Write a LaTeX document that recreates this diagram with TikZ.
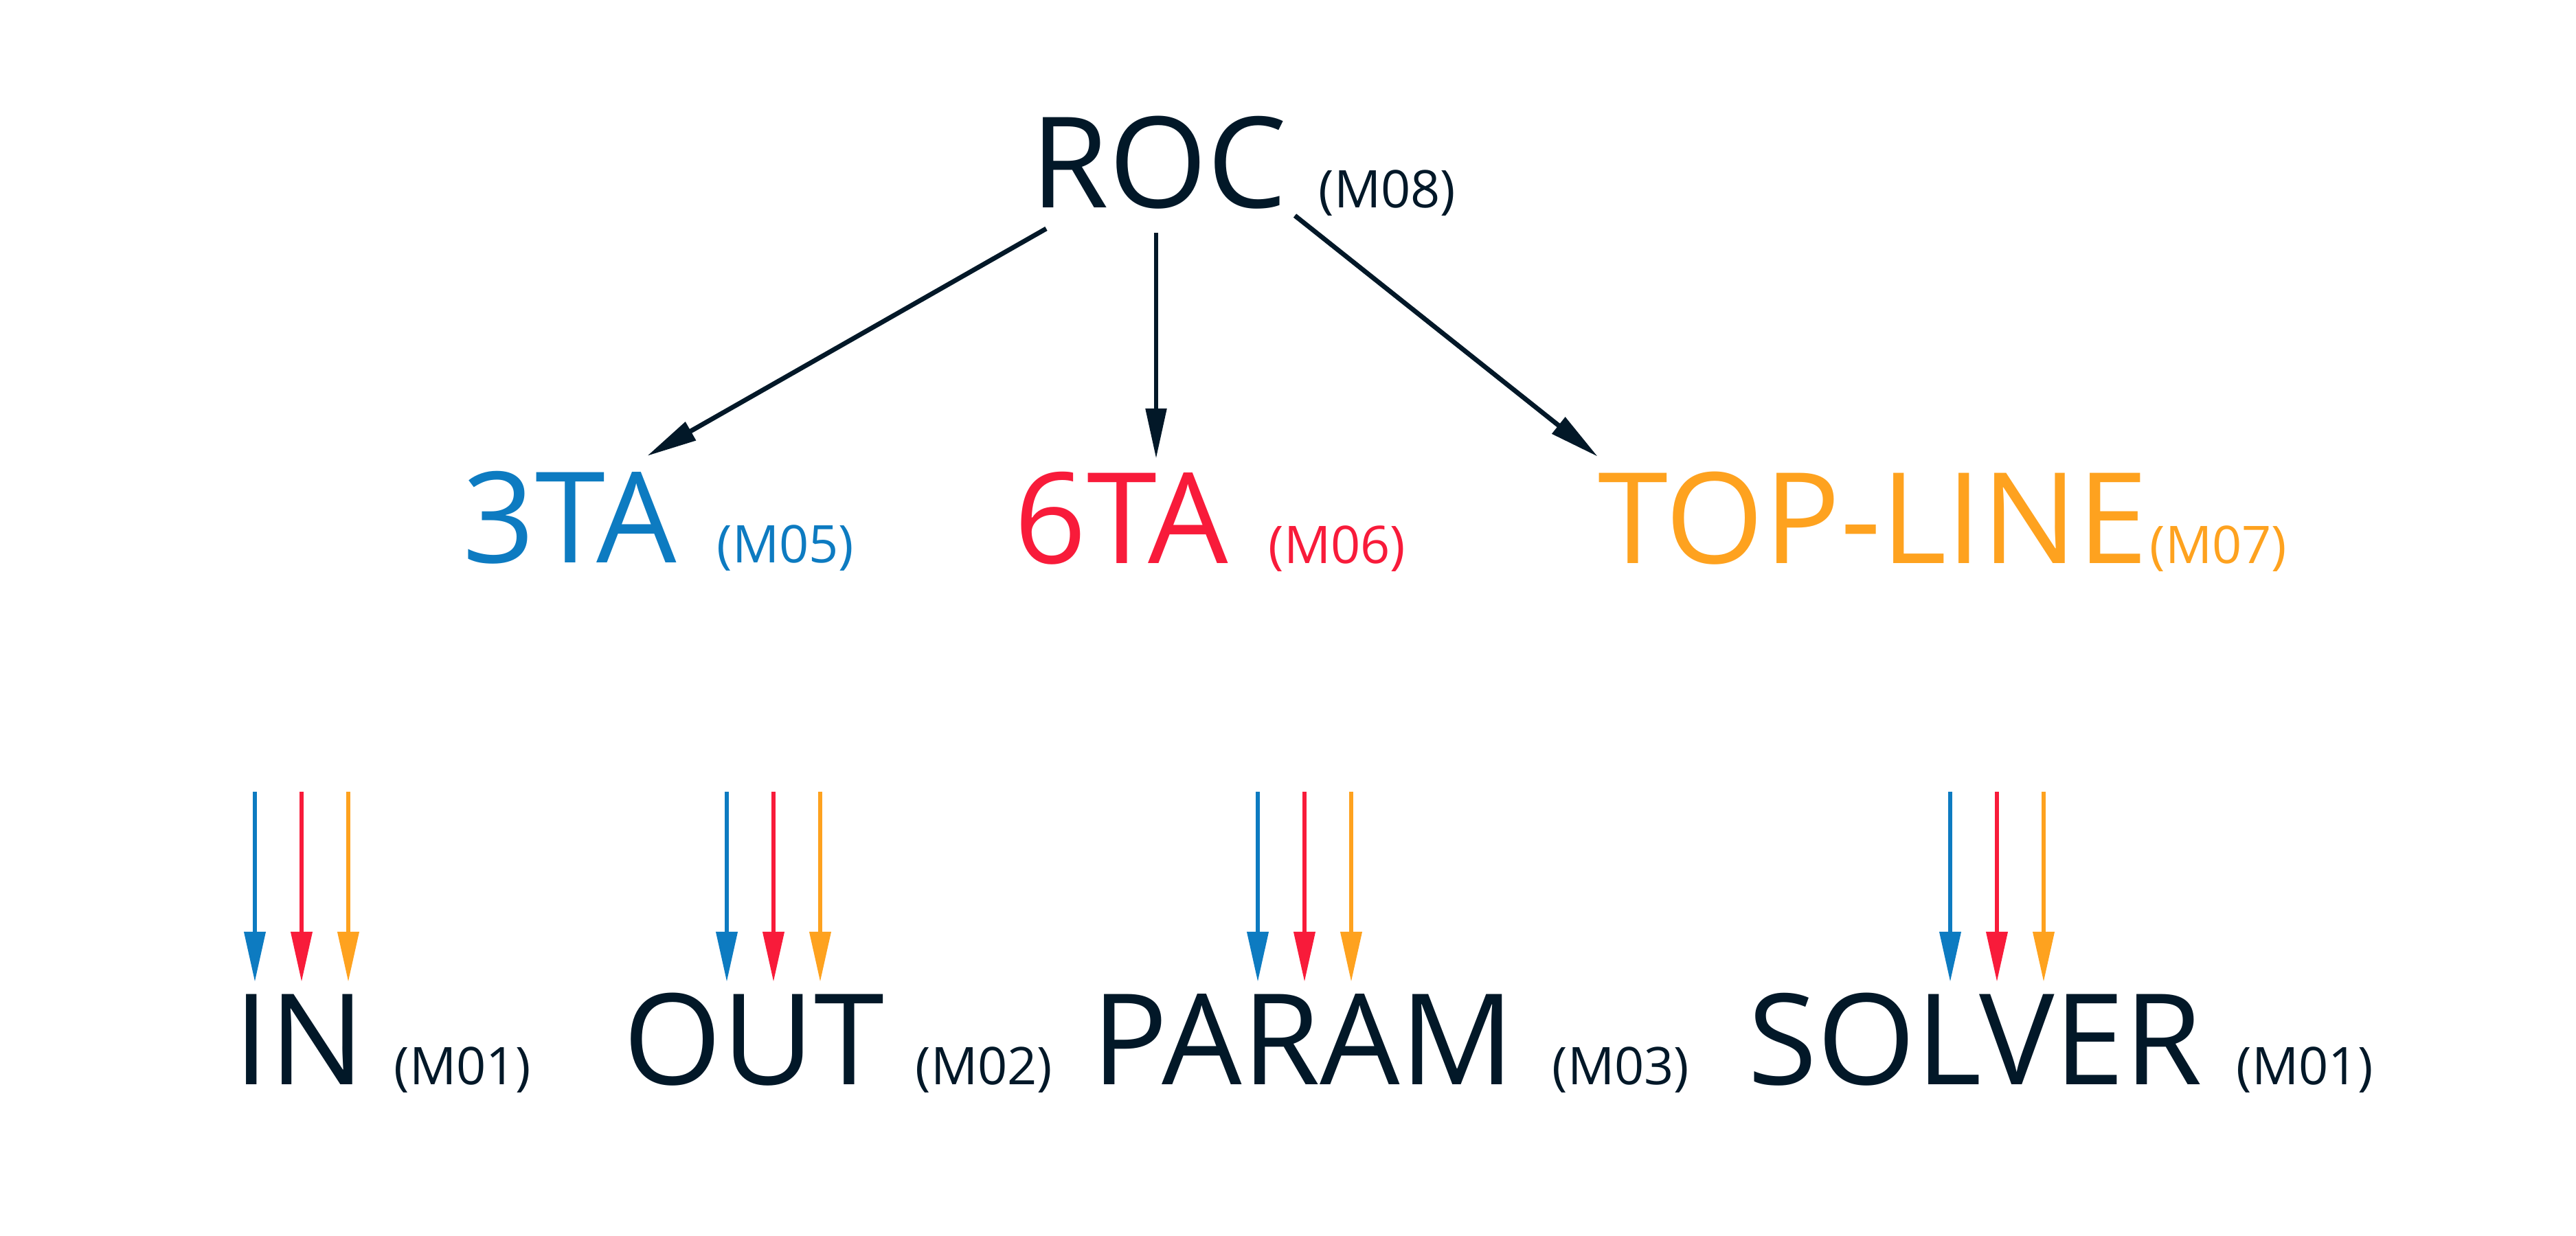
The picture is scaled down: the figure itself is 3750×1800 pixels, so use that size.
\documentclass[tikz,border=0pt]{standalone}
\usepackage{fontspec}
\setmainfont{Open Sans}
\usetikzlibrary{arrows.meta}
\definecolor{ink}{HTML}{021828}
\definecolor{cblue}{HTML}{0D7BC1}
\definecolor{cred}{HTML}{F81B3A}
\definecolor{corange}{HTML}{FEA21F}
\tikzset{
  big/.style={inner sep=0pt, anchor=base west, font=\fontsize{52.35pt}{60pt}\selectfont},
  small/.style={inner sep=0pt, anchor=base west, font=\fontsize{21.5pt}{26pt}\selectfont},
  toparrow/.style={draw=ink, line width=1.95pt, -{Triangle[length=20.8pt,width=8.4pt]}},
  botarrow/.style={line width=1.8pt, -{Triangle[length=20.8pt,width=8.6pt]}},
}
\begin{document}
\begin{tikzpicture}[x=0.01cm,y=-0.01cm]
\useasboundingbox (0,0) rectangle (3750,1800);
% top level
\node[big, text=ink] (roc) at (1500,303) {ROC};
\node[small, text=ink] (rocl) at (1919,303) {(M08)};
% middle level
\node[big, text=cblue] (tta) at (673,819) {3TA};
\node[small, text=cblue] (ttal) at (1043,819) {(M05)};
\node[big, text=cred] (sta) at (1476,820) {6TA};
\node[small, text=cred] (stal) at (1846,820) {(M06)};
\node[big, text=corange] (top) at (2326,820) {TOP-LINE};
\node[small, text=corange] (topl) at (3129,820) {(M07)};
% bottom level
\node[big, text=ink] (in) at (340,1579) {IN};
\node[small, text=ink] (inl) at (573,1579) {(M01)};
\node[big, text=ink] (out) at (907,1579) {OUT};
\node[small, text=ink] (outl) at (1332,1579) {(M02)};
\node[big, text=ink] (param) at (1589,1579) {PARAM};
\node[small, text=ink] (paraml) at (2259,1579) {(M03)};
\node[big, text=ink] (solver) at (2544,1579) {SOLVER};
\node[small, text=ink] (solverl) at (3255,1579) {(M01)};
% top arrows
\coordinate (s1) at (1523,333); \coordinate (e1) at (942,664);
\coordinate (s2) at (1683,339); \coordinate (e2) at (1683,668);
\coordinate (s3) at (1885,314); \coordinate (e3) at (2326,665);
\draw[toparrow] (s1) -- (e1);
\draw[toparrow] (s2) -- (e2);
\draw[toparrow] (s3) -- (e3);
% bottom arrows
\foreach \n/\x in {in/371, out/1058, param/1831, solver/2839}{
  \coordinate (\n b1) at (\x,1153); \coordinate (\n t1) at (\x,1430);
  \coordinate (\n b2) at (\x+68,1153); \coordinate (\n t2) at (\x+68,1430);
  \coordinate (\n b3) at (\x+136,1153); \coordinate (\n t3) at (\x+136,1430);
  \draw[botarrow, draw=cblue, fill=cblue] (\n b1) -- (\n t1);
  \draw[botarrow, draw=cred, fill=cred] (\n b2) -- (\n t2);
  \draw[botarrow, draw=corange, fill=corange] (\n b3) -- (\n t3);
}
\end{tikzpicture}
\end{document}
